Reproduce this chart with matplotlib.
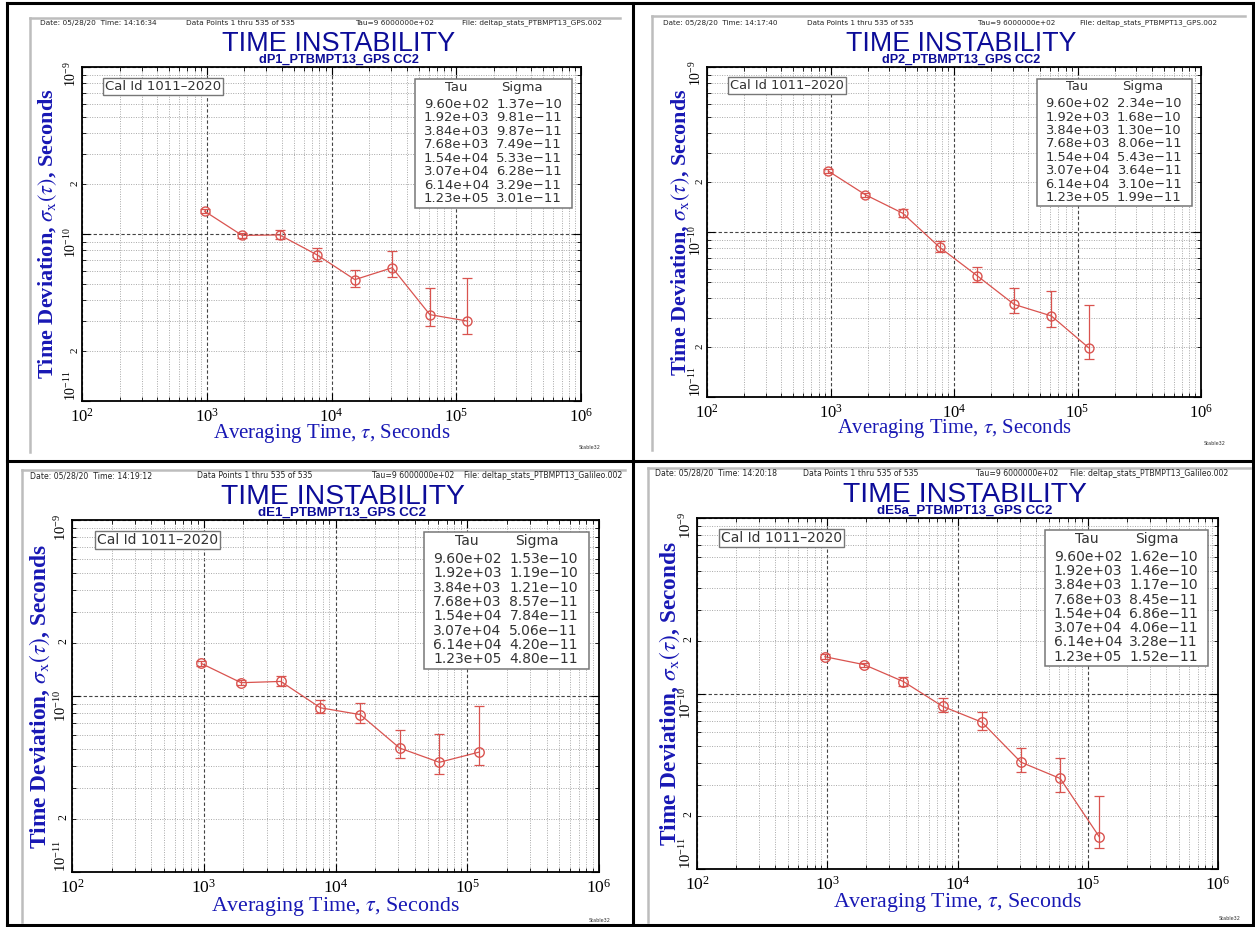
import numpy as np
import matplotlib
matplotlib.use('Agg')
import matplotlib.pyplot as plt
from matplotlib.ticker import FixedLocator, FuncFormatter, NullFormatter, LogFormatterSciNotation
from matplotlib.lines import Line2D
from matplotlib.patches import Rectangle

plt.rcParams['mathtext.fontset'] = 'stix'

# ---------------- data ----------------
tau = [960, 1920, 3840, 7680, 15400, 30700, 61400, 123000]

subtitles = ['dP1_PTBMPT13_GPS CC2', 'dP2_PTBMPT13_GPS CC2',
             'dE1_PTBMPT13_GPS CC2', 'dE5a_PTBMPT13_GPS CC2']
times = ['14:16:34', '14:17:40', '14:19:12', '14:20:18']
files = ['deltap_stats_PTBMPT13_GPS.002', 'deltap_stats_PTBMPT13_GPS.002',
         'deltap_stats_PTBMPT13_Galileo.002', 'deltap_stats_PTBMPT13_Galileo.002']

sigma_dP1 = [1.37e-10, 9.81e-11, 9.87e-11, 7.49e-11, 5.33e-11, 6.28e-11, 3.29e-11, 3.01e-11]
hi_dP1 = [1.41e-10, 1.01e-10, 1.057e-10, 8.28e-11, 6.06e-11, 7.94e-11, 4.75e-11, 5.45e-11]
lo_dP1 = [1.33e-10, 9.52e-11, 9.30e-11, 6.86e-11, 4.84e-11, 5.55e-11, 2.83e-11, 2.53e-11]

sigma_dP2 = [2.34e-10, 1.68e-10, 1.30e-10, 8.06e-11, 5.43e-11, 3.64e-11, 3.10e-11, 1.99e-11]
hi_dP2 = [2.41e-10, 1.73e-10, 1.374e-10, 8.87e-11, 6.15e-11, 4.60e-11, 4.41e-11, 3.60e-11]
lo_dP2 = [2.27e-10, 1.63e-10, 1.23e-10, 7.52e-11, 4.95e-11, 3.21e-11, 2.65e-11, 1.69e-11]

sigma_dE1 = [1.53e-10, 1.19e-10, 1.21e-10, 8.57e-11, 7.84e-11, 5.06e-11, 4.20e-11, 4.80e-11]
hi_dE1 = [1.58e-10, 1.23e-10, 1.30e-10, 9.47e-11, 9.09e-11, 6.41e-11, 6.06e-11, 8.74e-11]
lo_dE1 = [1.48e-10, 1.15e-10, 1.14e-10, 8.03e-11, 7.06e-11, 4.46e-11, 3.60e-11, 4.05e-11]

sigma_dE5a = [1.62e-10, 1.46e-10, 1.17e-10, 8.45e-11, 6.86e-11, 4.06e-11, 3.28e-11, 1.52e-11]
hi_dE5a = [1.67e-10, 1.50e-10, 1.244e-10, 9.38e-11, 7.89e-11, 4.91e-11, 4.28e-11, 2.60e-11]
lo_dE5a = [1.57e-10, 1.42e-10, 1.106e-10, 7.88e-11, 6.23e-11, 3.58e-11, 2.74e-11, 1.32e-11]

series = [(sigma_dP1, hi_dP1, lo_dP1), (sigma_dP2, hi_dP2, lo_dP2),
          (sigma_dE1, hi_dE1, lo_dE1), (sigma_dE5a, hi_dE5a, lo_dE5a)]

# axis decades
x_decades = [2, 3, 4, 5, 6]
y_decades = [-11, -10, -9]

# ---------------- layout (pixels) ----------------
W, H = 1255, 927
layout = [
    dict(ax=(82, 67, 581, 401), s=1.0, hy=23, ty=51, sy=63, hx=(40, 186, 355, 462),
         frame=(30, 18, 620, 452), stab=(590, 448), ylx=48, xly=433),
    dict(ax=(707, 67, 1201, 397), s=0.99, hy=23, ty=51, sy=63, hx=(663, 807, 978, 1080),
         frame=(652, 16, 1245, 450), stab=(1215, 443), ylx=681, xly=429),
    dict(ax=(72, 520, 599, 872), s=1.05, hy=476, ty=504, sy=516, hx=(30, 197, 372, 464),
         frame=(22, 470, 625, 922), stab=(600, 920), ylx=40, xly=906),
    dict(ax=(697, 518, 1218, 869), s=1.05, hy=473, ty=502, sy=514, hx=(655, 803, 976, 1070),
         frame=(648, 468, 1250, 922), stab=(1230, 918), ylx=670, xly=902),
]

title_fam = 'Liberation Sans'
serif = 'Liberation Serif'
thin = 'DejaVu Sans'

NAVY = '#0c0c98'
BLUE = '#1818b4'
RED = '#d9534f'

fig = plt.figure(figsize=(W / 100, H / 100), dpi=100)
fig.patch.set_facecolor('white')


def fx(x):
    return x / W


def fy(y):
    return 1 - y / H


def minor_fmt(v, pos):
    m = v / 10 ** np.floor(np.log10(v) + 1e-9)
    return '2' if abs(m - 2) < 0.05 else ''


xmaj = [10.0 ** d for d in x_decades]
xmin = [m * 10.0 ** d for d in x_decades[:-1] for m in range(2, 10)]
ymaj = [10.0 ** d for d in y_decades]
ymin = [m * 10.0 ** d for d in y_decades[:-1] for m in range(2, 10)]

for i, (L, (sig, hi, lo)) in enumerate(zip(layout, series)):
    x0, y0, x1, y1 = L['ax']
    s = L['s']
    ax = fig.add_axes([fx(x0), fy(y1), (x1 - x0) / W, (y1 - y0) / H])
    ax.set_xscale('log')
    ax.set_yscale('log')
    ax.set_xlim(xmaj[0], xmaj[-1])
    ax.set_ylim(ymaj[0], ymaj[-1])
    ax.xaxis.set_major_locator(FixedLocator(xmaj))
    ax.xaxis.set_minor_locator(FixedLocator(xmin))
    ax.yaxis.set_major_locator(FixedLocator(ymaj))
    ax.yaxis.set_minor_locator(FixedLocator(ymin))
    ax.xaxis.set_major_formatter(LogFormatterSciNotation())
    ax.yaxis.set_major_formatter(LogFormatterSciNotation())
    ax.xaxis.set_minor_formatter(NullFormatter())
    ax.yaxis.set_minor_formatter(FuncFormatter(minor_fmt))
    ax.grid(which='major', color='#444444', linestyle=(0, (3, 2)), lw=0.8)
    ax.grid(which='minor', color='#a8a8a8', linestyle=(0, (1, 1.5)), lw=0.7)
    ax.set_axisbelow(True)
    ax.tick_params(which='both', direction='in', top=True, right=True, color='black')
    ax.tick_params(which='major', length=6, width=0.8)
    ax.tick_params(which='minor', length=3, width=0.6)
    ax.tick_params(axis='x', which='major', labelsize=12 * s, pad=5)
    ax.tick_params(axis='y', which='major', labelsize=10 * s, labelrotation=90, pad=2)
    ax.tick_params(axis='y', which='minor', labelsize=8 * s, labelrotation=90, pad=2)
    for lab in ax.get_xticklabels() + ax.get_yticklabels(which='both'):
        lab.set_fontfamily(serif)
    # lowest y label sits above its tick, as in the reference
    ax.yaxis.get_major_ticks()[0].label1.set_va('bottom')
    for sp in ax.spines.values():
        sp.set_linewidth(1.3)

    sig_a = np.array(sig)
    yerr = [sig_a - np.array(lo), np.array(hi) - sig_a]
    ax.errorbar(tau, sig, yerr=yerr, fmt='o-', color=RED, mfc='none', mec=RED,
                ms=6.5 * s, lw=0.9, elinewidth=0.9, capsize=3.5 * s, capthick=0.9, zorder=3)

    # Cal Id box
    ax.text(0.162, 0.943, 'Cal Id 1011\u20132020', transform=ax.transAxes, ha='center', va='center',
            fontsize=9.5 * s, family=thin, color='#333333', zorder=5,
            bbox=dict(boxstyle='square,pad=0.15', fc='white', ec='#777777', lw=1.0))

    # Table box
    ax.add_patch(Rectangle((0.668, 0.578), 0.981 - 0.668, 0.965 - 0.578, transform=ax.transAxes,
                           fc='white', ec='#777777', lw=1.1, zorder=4))
    ax.text(0.749, 0.940, 'Tau', transform=ax.transAxes, ha='center', va='center',
            fontsize=9.5 * s, family=thin, color='#333333', zorder=5)
    ax.text(0.882, 0.940, 'Sigma', transform=ax.transAxes, ha='center', va='center',
            fontsize=9.5 * s, family=thin, color='#333333', zorder=5)
    for k, (t, v) in enumerate(zip(tau, sig)):
        yy = 0.889 - k * 0.0406
        ax.text(0.685, yy, f'{t:.2e}', transform=ax.transAxes, ha='left', va='center',
                fontsize=9.5 * s, family=thin, color='#333333', zorder=5)
        ax.text(0.830, yy, f'{v:.2e}'.replace('-', '\u2212'), transform=ax.transAxes, ha='left',
                va='center', fontsize=9.5 * s, family=thin, color='#333333', zorder=5)

    # Titles (baseline aligned)
    xm = (x0 + x1) / 2 + 7
    fig.text(fx(xm), fy(L['ty']), 'TIME INSTABILITY', ha='center', va='baseline',
             fontsize=19.5 * s, family=title_fam, color=NAVY)
    fig.text(fx(xm), fy(L['sy']), subtitles[i], ha='center', va='baseline',
             fontsize=9.2 * s, family=title_fam, fontweight='bold', color=NAVY)

    # Header line
    hx = L['hx']
    hdr = [f'Date: 05/28/20  Time: {times[i]}', 'Data Points 1 thru 535 of 535',
           'Tau=9 6000000e+02', f'File: {files[i]}']
    for xx, tx in zip(hx, hdr):
        fig.text(fx(xx), fy(L['hy']), tx, ha='left', va='center', fontsize=5.3 * s,
                 family=thin, color='#222222')

    # Axis labels
    fig.text(fx(L['ylx']), fy((y0 + y1) / 2), r'Time Deviation, $\sigma_{\mathrm{x}}(\tau)$, Seconds',
             rotation=90, ha='center', va='center', fontsize=16 * s, family=serif,
             fontweight='bold', color=BLUE)
    fig.text(fx((x0 + x1) / 2), fy(L['xly']), r'Averaging Time, $\tau$, Seconds',
             ha='center', va='center', fontsize=15 * s, family=serif, color=BLUE)

    # Stable32 tag
    fig.text(fx(L['stab'][0]), fy(L['stab'][1]), 'Stable32', ha='center', va='center',
             fontsize=3.5, family=thin, color='#333333')

    # light gray frame
    gx0, gy0, gx1, gy1 = L['frame']
    fig.add_artist(Line2D([fx(gx0), fx(gx0)], [fy(gy1), fy(gy0)], transform=fig.transFigure,
                          color='#bdbdbd', lw=1.8))
    fig.add_artist(Line2D([fx(gx0), fx(gx1)], [fy(gy0), fy(gy0)], transform=fig.transFigure,
                          color='#bdbdbd', lw=1.8))

# black panel borders
for (xa, ya, xb, yb) in [(7, 3, 1253, 3), (7, 925, 1253, 925), (7, 3, 7, 925),
                         (1253, 3, 1253, 925), (633, 3, 633, 925), (7, 461, 1253, 461)]:
    fig.add_artist(Line2D([fx(xa), fx(xb)], [fy(ya), fy(yb)], transform=fig.transFigure,
                          color='black', lw=2.2))

fig.savefig('out.png', dpi=100)
